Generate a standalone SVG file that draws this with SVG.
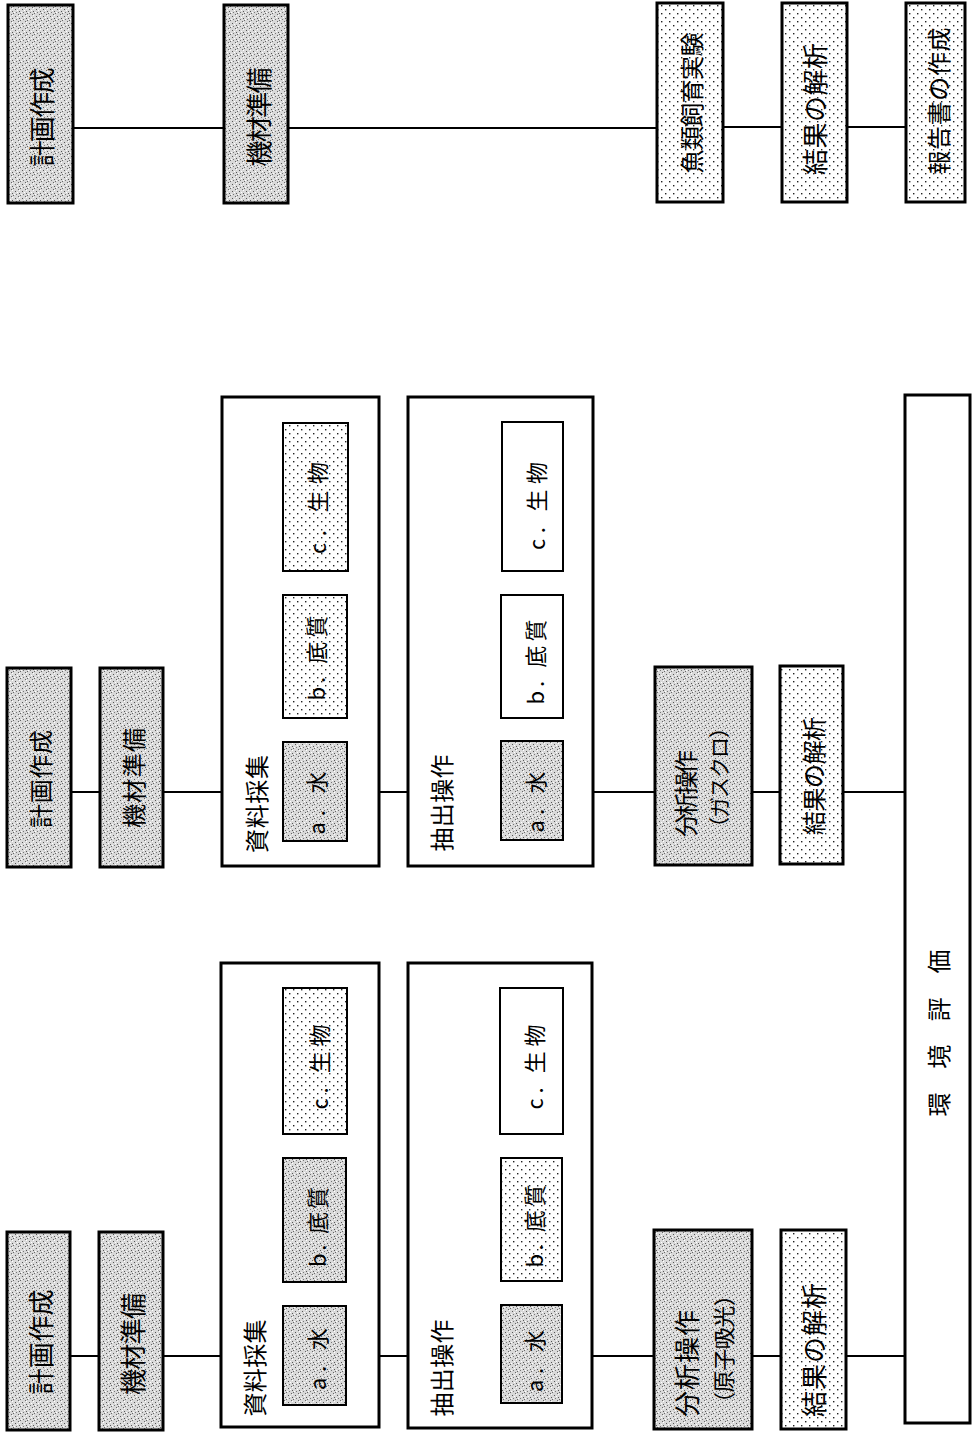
<svg xmlns="http://www.w3.org/2000/svg" width="974" height="1433" viewBox="0 0 974 1433">
<style>
.bg{fill:#fff}
.box{stroke:#000;stroke-width:3}
.sub{stroke:#000;stroke-width:2}
.grp{fill:#fff;stroke:#000;stroke-width:3}
.gs{fill:url(#gs)}
.dt{fill:url(#dt)}
.wh{fill:#fff}
.c{stroke:#000;stroke-width:2;fill:none}
.t{font-family:"Noto Sans CJK JP","Noto Sans CJK SC",sans-serif;font-size:24px;fill:#000;text-anchor:middle;dominant-baseline:central}
.s{font-size:22px}
.l{font-size:26px}
.n{font-size:21px}
.st{text-anchor:start}
</style>
<defs>
<pattern id="gs" width="7" height="7" patternUnits="userSpaceOnUse">
<rect width="7" height="7" fill="#d9d9d9"/>
<rect x="1" y="2" width="1" height="1" fill="#555"/>
<rect x="4" y="0" width="1" height="1" fill="#666"/>
<rect x="5" y="4" width="1" height="1" fill="#555"/>
<rect x="2" y="5" width="1" height="1" fill="#777"/>
<rect x="6" y="6" width="1" height="1" fill="#666"/>
<rect x="3" y="3" width="1" height="1" fill="#fff"/>
<rect x="0" y="5" width="1" height="1" fill="#fff"/>
<rect x="5" y="1" width="1" height="1" fill="#fff"/>
</pattern>
<pattern id="dt" width="8" height="8" patternUnits="userSpaceOnUse">
<rect width="8" height="8" fill="#fff"/>
<rect x="1" y="1" width="1.4" height="1.4" fill="#222"/>
<rect x="5" y="5" width="1.4" height="1.4" fill="#222"/>
</pattern>
</defs>
<rect class="bg" width="974" height="1433"/>

<g id="connectors">
<line class="c" x1="73" y1="128" x2="224" y2="128"/>
<line class="c" x1="288" y1="128" x2="657" y2="128"/>
<line class="c" x1="723" y1="127" x2="782" y2="127"/>
<line class="c" x1="847" y1="127" x2="906" y2="127"/>
<line class="c" x1="71" y1="792" x2="100" y2="792"/>
<line class="c" x1="163" y1="792" x2="222" y2="792"/>
<line class="c" x1="379" y1="792" x2="408" y2="792"/>
<line class="c" x1="593" y1="792" x2="655" y2="792"/>
<line class="c" x1="752" y1="792" x2="780" y2="792"/>
<line class="c" x1="843" y1="792" x2="905" y2="792"/>
<line class="c" x1="70" y1="1356" x2="99" y2="1356"/>
<line class="c" x1="163" y1="1356" x2="221" y2="1356"/>
<line class="c" x1="379" y1="1356" x2="408" y2="1356"/>
<line class="c" x1="592" y1="1356" x2="654" y2="1356"/>
<line class="c" x1="752" y1="1356" x2="781" y2="1356"/>
<line class="c" x1="846" y1="1356" x2="905" y2="1356"/>
</g>

<!-- top row -->
<g id="n1-plan"><rect class="box gs" x="8" y="5" width="65" height="198"/><text class="t l" transform="translate(40,117) rotate(-90)" textLength="99">計画作成</text></g>
<g id="n1-equip"><rect class="box gs" x="224" y="5" width="64" height="198"/><text class="t l" transform="translate(257,117) rotate(-90)" textLength="99">機材準備</text></g>
<g id="n1-fish"><rect class="box dt" x="657" y="3" width="66" height="199"/><text class="t" transform="translate(690,103) rotate(-90)" textLength="141">魚類飼育実験</text></g>
<g id="n1-result"><rect class="box dt" x="782" y="3" width="65" height="199"/><text class="t l" transform="translate(813,109) rotate(-90)" textLength="132">結果の解析</text></g>
<g id="n1-report"><rect class="box dt" x="906" y="3" width="59" height="199"/><text class="t" transform="translate(937,101) rotate(-90)" textLength="147">報告書の作成</text></g>

<!-- middle group -->
<g id="n2-plan"><rect class="box gs" x="7" y="668" width="64" height="199"/><text class="t" transform="translate(39,779) rotate(-90)" textLength="98">計画作成</text></g>
<g id="n2-equip"><rect class="box gs" x="100" y="668" width="63" height="199"/><text class="t" transform="translate(132,778) rotate(-90)" textLength="100">機材準備</text></g>
<g id="n2-sample">
<rect class="grp" x="222" y="397" width="157" height="469"/>
<text class="t" transform="translate(255,804) rotate(-90)" textLength="98">資料採集</text>
<rect class="sub gs" x="283" y="742" width="64" height="99"/><text class="t s" transform="translate(315,803) rotate(-90)" textLength="63">a. 水</text>
<rect class="sub dt" x="283" y="595" width="64" height="123"/><text class="t s" transform="translate(315,658) rotate(-90)" textLength="85">b. 底質</text>
<rect class="sub dt" x="283" y="423" width="65" height="148"/><text class="t s" transform="translate(316,508) rotate(-90)" textLength="92">c. 生物</text>
</g>
<g id="n2-extract">
<rect class="grp" x="408" y="397" width="185" height="469"/>
<text class="t" transform="translate(440,803) rotate(-90)" textLength="97">抽出操作</text>
<rect class="sub gs" x="501" y="741" width="62" height="99"/><text class="t s" transform="translate(534,802) rotate(-90)" textLength="61">a. 水</text>
<rect class="sub wh" x="501" y="595" width="62" height="123"/><text class="t s" transform="translate(534,662) rotate(-90)" textLength="85">b. 底質</text>
<rect class="sub wh" x="502" y="422" width="61" height="149"/><text class="t s" transform="translate(535,506) rotate(-90)" textLength="88">c. 生物</text>
</g>
<g id="n2-analysis"><rect class="box gs" x="655" y="667" width="97" height="198"/>
<text class="t st" transform="translate(684,837) rotate(-90)" textLength="87">分析操作</text>
<text class="t n st" transform="translate(718,838) rotate(-90)" textLength="121">（ガスクロ）</text></g>
<g id="n2-result"><rect class="box dt" x="780" y="666" width="63" height="198"/><text class="t" transform="translate(812,776) rotate(-90)" textLength="118">結果の解析</text></g>

<!-- bottom group -->
<g id="n3-plan"><rect class="box gs" x="7" y="1232" width="63" height="198"/><text class="t l" transform="translate(39,1342) rotate(-90)" textLength="105">計画作成</text></g>
<g id="n3-equip"><rect class="box gs" x="99" y="1232" width="64" height="198"/><text class="t l" transform="translate(131,1344) rotate(-90)" textLength="102">機材準備</text></g>
<g id="n3-sample">
<rect class="grp" x="221" y="963" width="158" height="464"/>
<text class="t" transform="translate(253,1368) rotate(-90)" textLength="97">資料採集</text>
<rect class="sub gs" x="283" y="1306" width="63" height="99"/><text class="t s" transform="translate(316,1359) rotate(-90)" textLength="62">a. 水</text>
<rect class="sub gs" x="283" y="1158" width="63" height="124"/><text class="t s" transform="translate(316,1227) rotate(-90)" textLength="80">b. 底質</text>
<rect class="sub dt" x="283" y="988" width="64" height="146"/><text class="t s" transform="translate(318,1067) rotate(-90)" textLength="85">c. 生物</text>
</g>
<g id="n3-extract">
<rect class="grp" x="408" y="963" width="184" height="465"/>
<text class="t" transform="translate(440,1368) rotate(-90)" textLength="97">抽出操作</text>
<rect class="sub gs" x="501" y="1305" width="61" height="98"/><text class="t s" transform="translate(533,1361) rotate(-90)" textLength="62">a. 水</text>
<rect class="sub dt" x="501" y="1158" width="61" height="123"/><text class="t s" transform="translate(533,1226) rotate(-90)" textLength="83">b. 底質</text>
<rect class="sub wh" x="500" y="988" width="63" height="146"/><text class="t s" transform="translate(533,1067) rotate(-90)" textLength="85">c. 生物</text>
</g>
<g id="n3-analysis"><rect class="box gs" x="654" y="1230" width="98" height="199"/>
<text class="t l st" transform="translate(685,1417) rotate(-90)" textLength="107">分析操作</text>
<text class="t s st" transform="translate(722,1414) rotate(-90)" textLength="130">（原子吸光）</text></g>
<g id="n3-result"><rect class="box dt" x="781" y="1230" width="65" height="199"/><text class="t l" transform="translate(812,1350) rotate(-90)" textLength="134">結果の解析</text></g>

<g id="n-eval"><rect class="grp" x="905" y="395" width="65" height="1028"/><text class="t" transform="translate(937,1033) rotate(-90)" textLength="167">環 境 評 価</text></g>
</svg>
